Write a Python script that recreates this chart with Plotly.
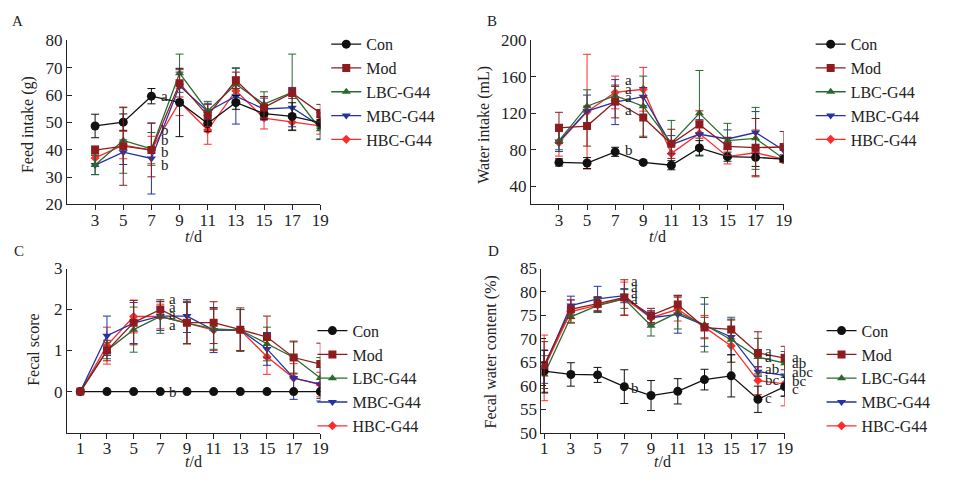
import plotly.graph_objects as go

# ---------------- data ----------------
groups = ["Con", "Mod", "LBC-G44", "MBC-G44", "HBC-G44"]
days_ab = [3, 5, 7, 9, 11, 13, 15, 17, 19]
days_cd = [1, 3, 5, 7, 9, 11, 13, 15, 17, 19]

# A: feed intake (g)
feed_con = [48.7, 50.1, 59.6, 57.3, 49.6, 57.3, 53.2, 52.2, 49.9]
feed_con_err = [4.3, 3.0, 2.8, 12.5, 3.0, 2.5, 2.0, 5.0, 2.0]
feed_mod = [39.9, 41.3, 39.9, 64.3, 52.5, 65.4, 55.5, 60.8, 53.4]
feed_mod_err = [1.5, 14.3, 9.8, 5.0, 4.0, 3.0, 4.0, 2.0, 3.2]
feed_lbc = [34.4, 43.4, 40.3, 68.0, 54.2, 64.0, 56.7, 61.0, 47.5]
feed_lbc_err = [3.5, 12.0, 6.0, 7.0, 3.5, 6.0, 4.5, 14.0, 3.5]
feed_mbc = [34.4, 39.1, 36.8, 63.4, 54.0, 59.6, 54.9, 55.4, 48.7]
feed_mbc_err = [3.5, 4.5, 13.0, 5.0, 3.0, 10.2, 4.0, 7.0, 5.0]
feed_hbc = [37.0, 41.7, 39.9, 57.5, 47.2, 61.6, 51.6, 50.1, 48.7]
feed_hbc_err = [3.0, 5.0, 5.0, 5.0, 5.2, 5.0, 4.0, 3.0, 3.0]

# B: water intake (mL)
water_con = [66.1, 65.4, 77.7, 66.1, 63.0, 82.0, 72.4, 71.7, 69.6]
water_con_err = [4.0, 6.0, 5.0, 1.0, 5.0, 8.0, 5.0, 10.0, 3.0]
water_mod = [104.1, 106.0, 133.0, 115.4, 86.5, 107.7, 83.7, 82.3, 83.0]
water_mod_err = [17.0, 22.0, 18.0, 22.0, 16.0, 15.0, 10.0, 32.0, 17.0]
water_lbc = [90.0, 127.8, 139.4, 127.8, 87.2, 120.0, 90.0, 92.5, 70.0]
water_lbc_err = [10.0, 18.0, 10.0, 33.0, 25.0, 47.0, 19.0, 34.0, 3.0]
water_mbc = [89.0, 122.5, 132.3, 138.3, 85.5, 97.0, 91.8, 98.9, 79.5]
water_mbc_err = [11.0, 17.5, 24.7, 10.0, 10.0, 16.0, 10.0, 23.0, 5.0]
water_hbc = [88.0, 121.8, 142.9, 146.4, 76.0, 97.8, 72.4, 76.7, 69.6]
water_hbc_err = [15.0, 63.0, 18.0, 24.0, 12.0, 14.0, 8.0, 25.0, 3.0]

# C: fecal score
score_con = [0, 0, 0, 0, 0, 0, 0, 0, 0, 0]
score_con_err = [0, 0, 0, 0, 0, 0, 0, 0, 0, 0]
score_mod = [0, 1.0, 1.68, 2.0, 1.68, 1.68, 1.51, 1.33, 0.83, 0.67]
score_mod_err = [0, 0.25, 0.54, 0.2, 0.52, 0.51, 0.53, 0.51, 0.4, 0.51]
score_lbc = [0, 1.0, 1.51, 1.83, 1.67, 1.53, 1.5, 1.16, 0.83, 0.33]
score_lbc_err = [0, 0.2, 0.55, 0.41, 0.5, 0.5, 0.5, 0.41, 0.38, 0.5]
score_mbc = [0, 1.36, 1.67, 1.84, 1.84, 1.5, 1.5, 1.04, 0.33, 0.18]
score_mbc_err = [0, 0.48, 0.5, 0.35, 0.4, 0.55, 0.5, 0.4, 0.52, 0.41]
score_hbc = [0, 1.12, 1.83, 1.83, 1.67, 1.5, 1.5, 0.85, 0.33, 0.17]
score_hbc_err = [0, 0.45, 0.4, 0.3, 0.5, 0.5, 0.5, 0.43, 0.35, 0.3]

# D: fecal water content (%)
fwc_con = [63.1, 62.4, 62.3, 59.8, 57.9, 58.8, 61.3, 62.1, 57.1, 59.8]
fwc_con_err = [4.5, 2.5, 1.6, 3.6, 3.2, 2.7, 2.2, 4.5, 2.8, 2.0]
fwc_mod = [64.4, 76.3, 77.5, 78.8, 75.0, 77.3, 72.4, 72.0, 67.0, 65.9]
fwc_mod_err = [5.0, 2.0, 1.5, 3.8, 1.5, 2.0, 2.2, 2.0, 4.5, 2.5]
fwc_lbc = [62.4, 74.7, 77.1, 78.5, 72.8, 75.6, 73.0, 69.8, 66.1, 64.8]
fwc_lbc_err = [4.0, 1.2, 1.5, 2.0, 2.2, 3.5, 5.8, 4.8, 4.0, 2.5]
fwc_mbc = [64.0, 77.1, 78.5, 79.2, 74.5, 75.2, 72.9, 70.4, 63.0, 62.2]
fwc_mbc_err = [3.5, 2.0, 2.7, 1.5, 1.5, 4.0, 4.5, 3.8, 1.0, 4.5]
fwc_hbc = [63.8, 75.8, 77.2, 78.6, 74.5, 76.3, 72.5, 68.5, 61.1, 60.4]
fwc_hbc_err = [7.0, 2.5, 1.5, 3.5, 1.2, 2.5, 2.5, 3.5, 3.0, 4.7]

# significance letters: (text, x, y)
letters_a = [("a", 7, 59.6), ("b", 7, 47.2), ("b", 7, 43.4), ("b", 7, 39.1), ("b", 7, 34.4)]
letters_b = [("a", 7, 156.3), ("a", 7, 146.4), ("a", 7, 137.6), ("a", 7, 123.5), ("b", 7, 79.5)]
letters_c = [("a", 7, 2.25), ("a", 7, 2.07), ("a", 7, 1.88), ("a", 7, 1.62), ("b", 7, 0.0)]
letters_d = [("a", 7, 82.3), ("a", 7, 81.0), ("a", 7, 79.7), ("a", 7, 78.4), ("b", 7, 59.6),
             ("a", 17, 67.4), ("a", 17, 66.2), ("ab", 17, 63.5), ("bc", 17, 61.3), ("c", 17, 57.3),
             ("a", 19, 66.2), ("ab", 19, 64.8), ("abc", 19, 62.9), ("bc", 19, 60.9), ("c", 19, 59.2)]

ylabels = ["Feed intake (g)", "Water intake (mL)", "Fecal score", "Fecal water content (%)"]
panel_letters = ["A", "B", "C", "D"]

# ---------------- style ----------------
FONT = "Liberation Serif, Times New Roman, serif"
TXT = "#222"
colors = {"Con": "#111111", "Mod": "#8e1c1f", "LBC-G44": "#2a6a2e",
          "MBC-G44": "#2333a6", "HBC-G44": "#ff2b2b"}
symbols = {"Con": "circle", "Mod": "square", "LBC-G44": "triangle-up",
           "MBC-G44": "triangle-down", "HBC-G44": "diamond"}
sizes = {"Con": 9, "Mod": 8, "LBC-G44": 8, "MBC-G44": 8, "HBC-G44": 7}
draw_order = ["HBC-G44", "MBC-G44", "LBC-G44", "Con", "Mod"]

panels = [
    dict(x=days_ab, data={"Con": (feed_con, feed_con_err), "Mod": (feed_mod, feed_mod_err),
                          "LBC-G44": (feed_lbc, feed_lbc_err), "MBC-G44": (feed_mbc, feed_mbc_err),
                          "HBC-G44": (feed_hbc, feed_hbc_err)}),
    dict(x=days_ab, data={"Con": (water_con, water_con_err), "Mod": (water_mod, water_mod_err),
                          "LBC-G44": (water_lbc, water_lbc_err), "MBC-G44": (water_mbc, water_mbc_err),
                          "HBC-G44": (water_hbc, water_hbc_err)}),
    dict(x=days_cd, data={"Con": (score_con, score_con_err), "Mod": (score_mod, score_mod_err),
                          "LBC-G44": (score_lbc, score_lbc_err), "MBC-G44": (score_mbc, score_mbc_err),
                          "HBC-G44": (score_hbc, score_hbc_err)}),
    dict(x=days_cd, data={"Con": (fwc_con, fwc_con_err), "Mod": (fwc_mod, fwc_mod_err),
                          "LBC-G44": (fwc_lbc, fwc_lbc_err), "MBC-G44": (fwc_mbc, fwc_mbc_err),
                          "HBC-G44": (fwc_hbc, fwc_hbc_err)}),
]
letter_sets = [letters_a, letters_b, letters_c, letters_d]
letter_shift = [8, 8, 7, 5]

W, H = 963, 489
def px(x): return x / W
def py(y): return 1 - y / H

# axes geometry in pixels (left, right, top, bottom)
geom = [(65.7, 322, 32.7, 203.3), (535, 790.7, 32.7, 203.3),
        (65.7, 322, 270, 440.7), (545.7, 791.7, 270, 440.7)]
xranges = [[1, 19], [1, 19], [0, 19], [0.8, 19]]
yranges = [[20, 80], [20, 200], [-1, 3], [50, 85]]
yticks = [[20, 30, 40, 50, 60, 70, 80], [40, 80, 120, 160, 200], [0, 1, 2, 3],
          [50, 55, 60, 65, 70, 75, 80, 85]]
xticks = [days_ab, days_ab, days_cd, days_cd]
legend_pos = [(328, 19), (818, 19), (314, 317), (829, 317)]
ytitle_pos = [(27, 120), (488, 120), (32, 355), (495, 357)]
xtitle_pos = [(194, 237), (663, 237), (194, 471), (668, 471)]
letter_pos = [(16, 13), (496, 13), (17, 252), (497, 252)]

fig = go.Figure()
layout = dict(width=W, height=H, margin=dict(l=0, r=0, t=0, b=0),
              paper_bgcolor="white", plot_bgcolor="white",
              font=dict(family=FONT, size=16, color=TXT), annotations=[])

def ann(text, x, y, **kw):
    d = dict(text=text, x=x, y=y, xref="paper", yref="paper", showarrow=False,
             xanchor="center", yanchor="middle", font=dict(family=FONT, size=16, color=TXT))
    d.update(kw)
    return d

for i, p in enumerate(panels):
    k = "" if i == 0 else str(i + 1)
    xa, ya = "x" + k, "y" + k
    lg = "legend" + k
    for g in draw_order:
        y, e = p["data"][g]
        fig.add_trace(go.Scatter(
            x=p["x"], y=y, name=g, mode="lines+markers", xaxis=xa, yaxis=ya,
            legend=lg, legendrank=groups.index(g) + 1,
            line=dict(color=colors[g], width=1.3),
            marker=dict(symbol=symbols[g], size=sizes[g], color=colors[g],
                        line=dict(width=0)),
            error_y=dict(type="data", array=e, visible=True, color=colors[g],
                         thickness=1, width=4)))
    l, r, t, b = geom[i]
    axis_common = dict(showline=True, linecolor=TXT, linewidth=1,
                       ticklen=5, tickcolor=TXT, tickwidth=1, showgrid=False,
                       zeroline=False, tickfont=dict(family=FONT, size=17, color=TXT))
    layout["xaxis" + k] = dict(domain=[px(l), px(r)], range=xranges[i], tickvals=xticks[i],
                               anchor=ya, ticks="outside", ticklabelstandoff=-5,
                               **axis_common)
    layout["yaxis" + k] = dict(domain=[py(b), py(t)], range=yranges[i], tickvals=yticks[i],
                               anchor=xa, ticks="inside", **axis_common)
    lx, ly = legend_pos[i]
    layout[lg] = dict(x=px(lx), y=py(ly), xanchor="left", yanchor="top",
                      bgcolor="rgba(0,0,0,0)", font=dict(family=FONT, size=16, color=TXT),
                      itemwidth=30, tracegroupgap=0, traceorder="normal")
    tx, ty = ytitle_pos[i]
    layout["annotations"].append(ann(ylabels[i], px(tx), py(ty), textangle=-90))
    tx, ty = xtitle_pos[i]
    layout["annotations"].append(ann("<i>t</i>/d", px(tx), py(ty)))
    tx, ty = letter_pos[i]
    layout["annotations"].append(dict(
        text=panel_letters[i], xref=xa + " domain", yref=ya + " domain",
        x=(tx - l) / (r - l), y=(b - ty) / (b - t), xanchor="center", yanchor="middle",
        showarrow=False, font=dict(family=FONT, size=15, color=TXT)))
    for (txt, lxv, lyv) in letter_sets[i]:
        layout["annotations"].append(dict(text=txt, x=lxv, y=lyv, xref=xa, yref=ya,
                                          xanchor="left", yanchor="middle",
                                          xshift=letter_shift[i], showarrow=False,
                                          font=dict(family=FONT, size=15, color=TXT)))

fig.update_layout(**layout)
fig.write_html("out.html")
